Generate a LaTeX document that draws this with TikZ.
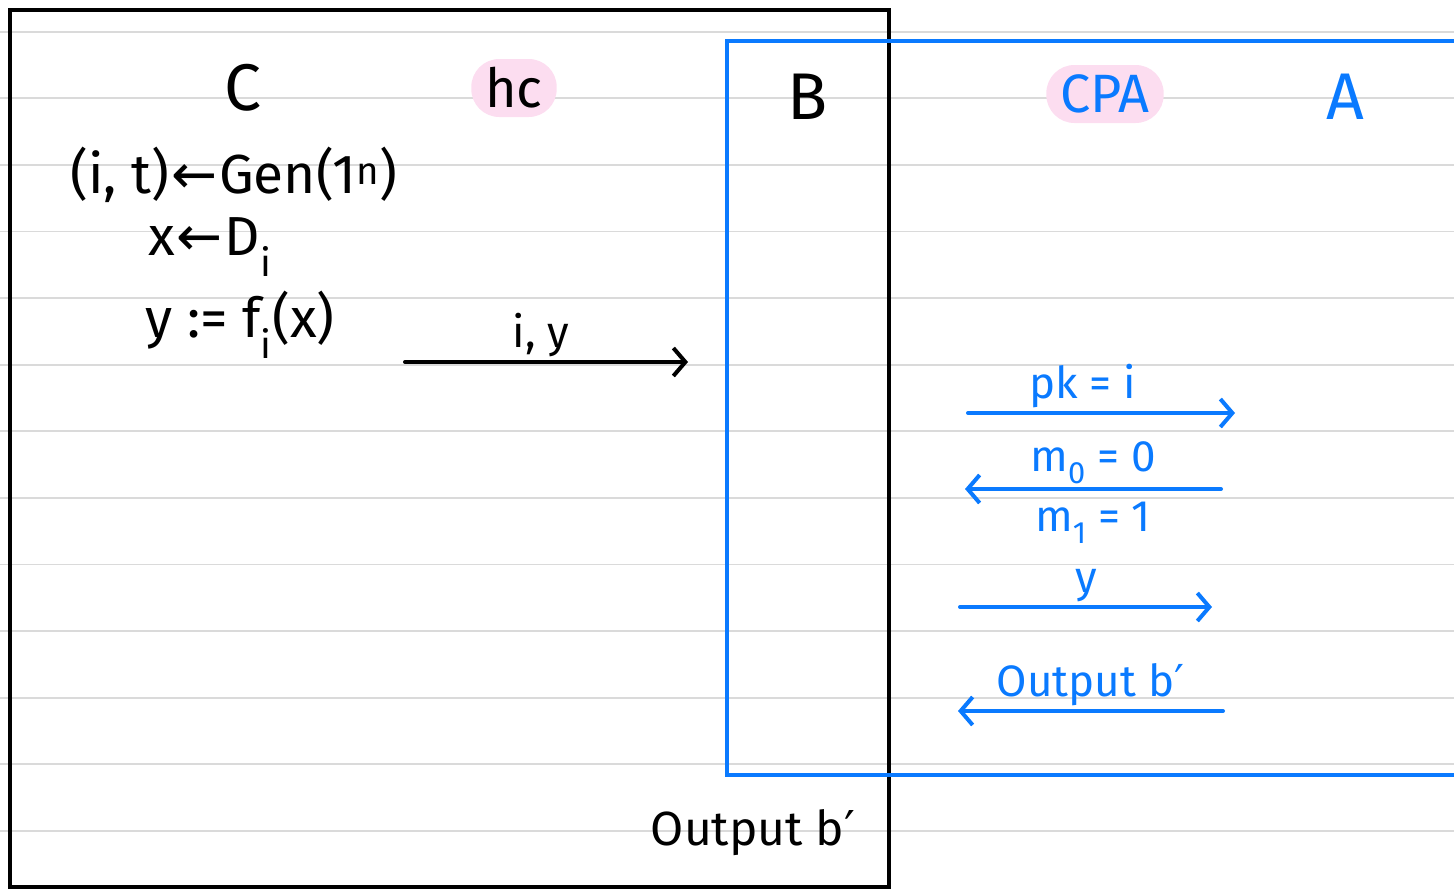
\documentclass[tikz,border=0pt]{standalone}
\usepackage{fontspec}
\setmainfont{Fira Sans}
\newfontfamily\symfont{DejaVu Sans}
\usetikzlibrary{arrows.meta}
\definecolor{inkblue}{HTML}{0A7AFF}
\definecolor{hlpink}{HTML}{FCDDF0}
\definecolor{rulegray}{HTML}{DADADA}
\newcommand{\getsarrow}{{\symfont\kern2pt←\kern2pt}}
\newcommand{\primed}{{\symfont ′}}
\begin{document}
\begin{tikzpicture}[x=1pt, y=-1pt,
    head/.style={font=\fontsize{66}{68}\selectfont, inner sep=0pt},
    hand/.style={font=\fontsize{55}{57}\selectfont, inner sep=0pt},
    msg/.style={font=\fontsize{44}{46}\selectfont, inner sep=3pt},
    hilite/.style={fill=hlpink, rounded corners=28pt, minimum height=58pt, inner xsep=14pt},
    wire/.style={line width=4pt, line cap=round, -{Straight Barb[length=12pt, width=28pt, line width=4pt]}}]
  \useasboundingbox (0,0) rectangle (1454,889);
  % ruled paper
  \foreach \k in {0,...,12} {
    \draw[rulegray, line width=1.8pt] (0,{31.7+66.6*\k}) -- (1454,{31.7+66.6*\k});
  }
  % reduction frame and adversary frame
  \draw[line width=4pt] (10,10) rectangle (889,887);
  \draw[inkblue, line width=4pt] (1460,41) -- (727,41) -- (727,775) -- (1460,775);
  % headings
  \node[head] (C) at (243,88) {C};
  \node[head, hilite, font=\fontsize{54}{56}\selectfont] (hc) at (514,88) {hc};
  \node[head] (B) at (808,97) {B};
  \node[head, hilite, text=inkblue, font=\fontsize{54}{56}\selectfont] (CPA) at (1105,94) {CPA};
  \node[head, text=inkblue] (A) at (1345,97) {A};
  % challenger steps
  \node[hand] (gen) at (234,175) {(i, t)\getsarrow Gen(1\textsuperscript{n})};
  \node[hand] (samp) at (210,247) {x\getsarrow D\textsubscript{i}};
  \node[hand] (eval) at (240,325) {y := f\textsubscript{i}(x)};
  % C -> B
  \coordinate (cs) at (405,362);
  \coordinate (ce) at (688,362);
  \draw[wire] (cs) -- node[msg, above, pos=0.48] (iy) {i, y} (ce);
  % B <-> A
  \coordinate (pa) at (968,413);
  \coordinate (pb) at (1235,413);
  \draw[wire, inkblue] (pa) -- node[msg, above, pos=0.43, text=inkblue] (pk) {pk = i} (pb);
  \coordinate (ma) at (1221,489);
  \coordinate (mb) at (965,489);
  \draw[wire, inkblue] (ma) -- node[msg, above, text=inkblue] (mzero) {m\textsubscript{0} = 0}
    node[msg, below, yshift=-8pt, text=inkblue] (mone) {m\textsubscript{1} = 1} (mb);
  \coordinate (ya) at (960,607);
  \coordinate (yb) at (1212,607);
  \draw[wire, inkblue] (ya) -- node[msg, above, text=inkblue] (cy) {y} (yb);
  \coordinate (oa) at (1223,711);
  \coordinate (ob) at (958,711);
  \draw[wire, inkblue] (oa) -- node[msg, above, text=inkblue] (outA) {Output b\primed} (ob);
  % B's answer
  \node[msg, font=\fontsize{48}{50}\selectfont] (outB) at (753,833) {Output b\primed};
\end{tikzpicture}
\end{document}
